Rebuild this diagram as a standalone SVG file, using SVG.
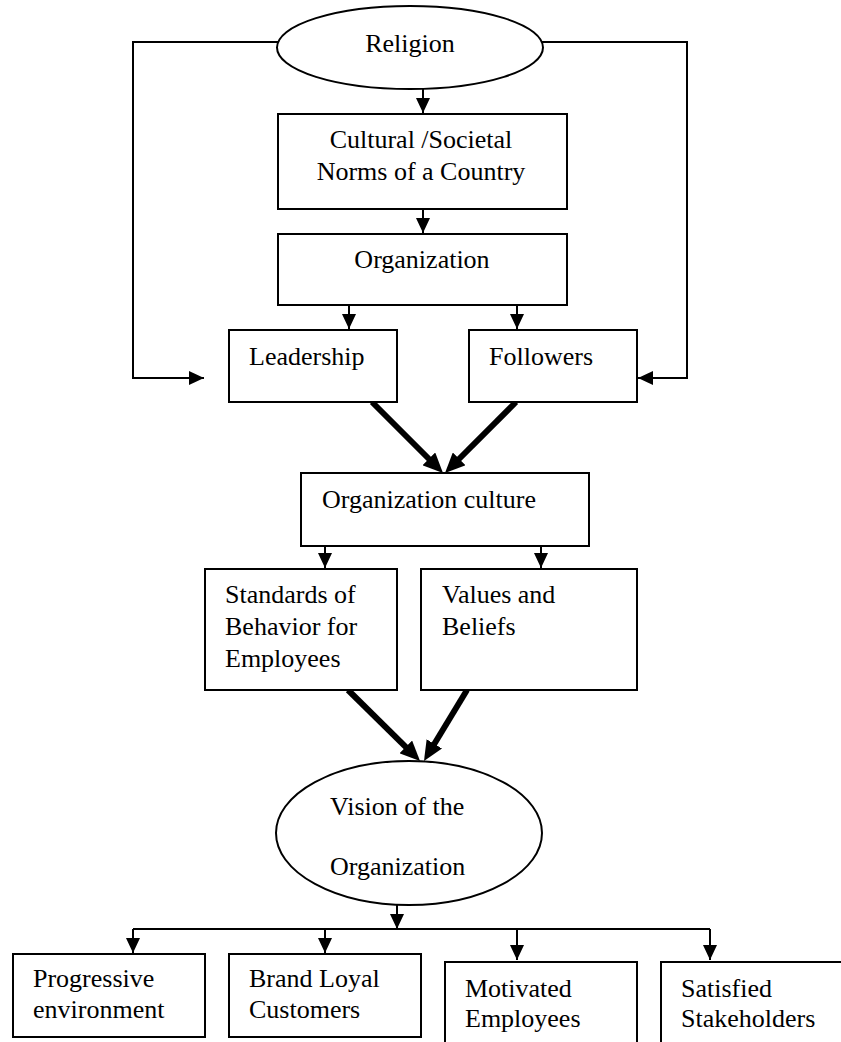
<svg xmlns="http://www.w3.org/2000/svg" width="841" height="1042" viewBox="0 0 841 1042">
<style>
.box{fill:#fff;stroke:#000;stroke-width:2}
.t{font-family:"Liberation Serif","Times New Roman",serif;font-size:26px;fill:#000}
.c{text-anchor:middle}
.ln{fill:none;stroke:#000;stroke-width:2}
.thin{marker-end:url(#ah)}
.thick{fill:none;stroke:#000;stroke-width:6;marker-end:url(#ahb)}
</style>
<defs>
<marker id="ah" markerUnits="userSpaceOnUse" markerWidth="15" markerHeight="14" refX="15" refY="7" orient="auto">
<path d="M0,0 L15,7 L0,14 z" fill="#000"/>
</marker>
<marker id="ahb" markerUnits="userSpaceOnUse" markerWidth="20" markerHeight="18" refX="8" refY="9" orient="auto">
<path d="M0,0 L20,9 L0,18 z" fill="#000"/>
</marker>
</defs>
<rect width="841" height="1042" fill="#fff"/>
<g id="connectors">
<polyline class="ln thin" points="278,42 133,42 133,378 204,378"/>
<polyline class="ln thin" points="542,42 687,42 687,378 638,378"/>
<line class="ln thin" x1="423" y1="89" x2="423" y2="113"/>
<line class="ln thin" x1="423" y1="209" x2="423" y2="233"/>
<line class="ln thin" x1="349" y1="305" x2="349" y2="329"/>
<line class="ln thin" x1="517" y1="305" x2="517" y2="329"/>
<line class="thick" x1="372" y1="402" x2="434.5" y2="464.5"/>
<line class="thick" x1="516" y1="402" x2="453.5" y2="464.5"/>
<line class="ln thin" x1="325" y1="546" x2="325" y2="568"/>
<line class="ln thin" x1="541" y1="546" x2="541" y2="568"/>
<line class="thick" x1="348" y1="690" x2="411.5" y2="752.6"/>
<line class="thick" x1="467" y1="690" x2="430.2" y2="750.7"/>
<line class="ln thin" x1="397" y1="905" x2="397" y2="929"/>
<line class="ln" x1="133" y1="929" x2="710" y2="929"/>
<line class="ln thin" x1="133" y1="929" x2="133" y2="953"/>
<line class="ln thin" x1="325" y1="929" x2="325" y2="953"/>
<line class="ln thin" x1="517" y1="929" x2="517" y2="960"/>
<line class="ln thin" x1="710" y1="929" x2="710" y2="960"/>
</g>
<g id="religion">
<ellipse class="box" cx="410" cy="47.5" rx="133" ry="41.5"/>
<text class="t c" x="410" y="52">Religion</text>
</g>
<g id="norms">
<rect class="box" x="278" y="114" width="289" height="95"/>
<text class="t c" x="421" y="148">Cultural /Societal</text>
<text class="t c" x="421" y="180">Norms of a Country</text>
</g>
<g id="organization">
<rect class="box" x="278" y="234" width="289" height="71"/>
<text class="t c" x="422" y="268">Organization</text>
</g>
<g id="leadership">
<rect class="box" x="229" y="330" width="168" height="72"/>
<text class="t" x="249" y="365">Leadership</text>
</g>
<g id="followers">
<rect class="box" x="469" y="330" width="168" height="72"/>
<text class="t" x="489" y="365">Followers</text>
</g>
<g id="org-culture">
<rect class="box" x="301" y="473" width="288" height="73"/>
<text class="t" x="322" y="508">Organization culture</text>
</g>
<g id="standards">
<rect class="box" x="205" y="569" width="192" height="121"/>
<text class="t" x="225" y="603">Standards of</text>
<text class="t" x="225" y="635">Behavior for</text>
<text class="t" x="225" y="667">Employees</text>
</g>
<g id="values">
<rect class="box" x="421" y="569" width="216" height="121"/>
<text class="t" x="442" y="603">Values and</text>
<text class="t" x="442" y="635">Beliefs</text>
</g>
<g id="vision">
<ellipse class="box" cx="409" cy="833" rx="133" ry="72"/>
<text class="t" x="330" y="815">Vision of the</text>
<text class="t" x="330" y="875">Organization</text>
</g>
<g id="progressive">
<rect class="box" x="13" y="954" width="192" height="83"/>
<text class="t" x="33" y="987">Progressive</text>
<text class="t" x="33" y="1018">environment</text>
</g>
<g id="brand">
<rect class="box" x="229" y="954" width="192" height="83"/>
<text class="t" x="249" y="987">Brand Loyal</text>
<text class="t" x="249" y="1018">Customers</text>
</g>
<g id="motivated">
<rect class="box" x="445" y="962" width="192" height="90"/>
<text class="t" x="465" y="997">Motivated</text>
<text class="t" x="465" y="1027">Employees</text>
</g>
<g id="satisfied">
<rect class="box" x="661" y="962" width="200" height="90"/>
<text class="t" x="681" y="997">Satisfied</text>
<text class="t" x="681" y="1027">Stakeholders</text>
</g>
</svg>
